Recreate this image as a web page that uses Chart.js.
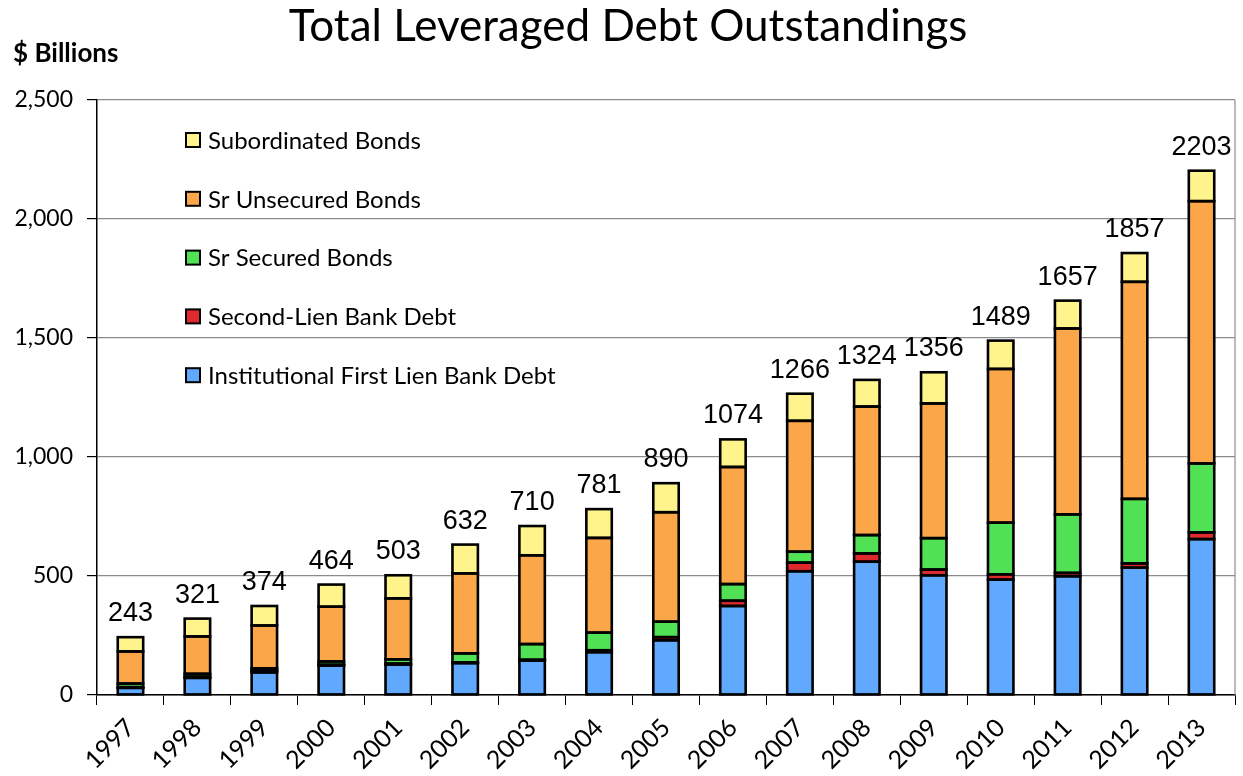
<!DOCTYPE html>
<html>
<head>
<meta charset="utf-8">
<script src="https://cdn.jsdelivr.net/npm/chart.js@4"></script>
<style>
  html, body { margin: 0; padding: 0; background: #fff; }
  #wrap { width: 1243px; height: 776px; }
</style>
</head>
<body>
<div id="wrap"><canvas id="debtChart" width="1243" height="776"></canvas></div>
<script>
// years on the x axis
const years = ["1997","1998","1999","2000","2001","2002","2003","2004","2005","2006","2007","2008","2009","2010","2011","2012","2013"];
// $ billions
const firstLien   = [30, 72, 95, 124, 128, 134, 145, 180, 230, 374, 520, 560, 503, 485, 499, 535, 655];
const secondLien  = [3, 5, 7, 3, 4, 3, 3, 8, 13, 22, 36, 35, 24, 22, 14, 18, 28];
const srSecured   = [15, 12, 10, 14, 18, 38, 66, 74, 65, 70, 46, 77, 132, 217, 246, 271, 290];
const srUnsecured = [135, 157, 180, 230, 256, 336, 373, 398, 460, 492, 550, 540, 566, 646, 781, 912, 1102];
const subordinated = [60, 75, 82, 93, 97, 121, 123, 121, 122, 116, 114, 112, 131, 119, 117, 121, 128];
// totals printed above each bar
const totals = [243, 321, 374, 464, 503, 632, 710, 781, 890, 1074, 1266, 1324, 1356, 1489, 1657, 1857, 2203];
const yTicks = [0, 500, 1000, 1500, 2000, 2500];

const calibriLike = "Lato, 'Open Sans', sans-serif";

function series(label, data, color) {
  return {
    label: label,
    data: data,
    backgroundColor: color,
    borderWidth: 0,
    inflateAmount: 0,
    barPercentage: 0.38,
    categoryPercentage: 1
  };
}

// black outlines centred on each segment's edges, like the spreadsheet original
const outlines = {
  id: "outlines",
  afterDatasetsDraw(chart) {
    const ctx = chart.ctx;
    const area = chart.chartArea;
    ctx.save();
    ctx.strokeStyle = "#8c8c8c";
    ctx.lineWidth = 1.2;
    ctx.beginPath();
    ctx.moveTo(area.right, area.top);
    ctx.lineTo(area.right, area.bottom);
    ctx.stroke();

    ctx.strokeStyle = "#000";
    ctx.lineWidth = 2.6;
    chart.data.datasets.forEach((ds, di) => {
      chart.getDatasetMeta(di).data.forEach(bar => {
        const p = bar.getProps(["x", "y", "base", "width"], true);
        ctx.strokeRect(p.x - p.width / 2, Math.min(p.y, p.base), p.width, Math.abs(p.base - p.y));
      });
    });
    ctx.restore();
  }
};

// title, unit label, totals and the legend box drawn on the canvas
const extras = {
  id: "extras",
  afterDraw(chart) {
    const ctx = chart.ctx;
    ctx.save();
    ctx.fillStyle = "#000";
    ctx.textAlign = "center";
    ctx.textBaseline = "alphabetic";
    ctx.font = "44px " + calibriLike;
    ctx.fillText("Total Leveraged Debt Outstandings", 628, 41);

    ctx.textAlign = "left";
    ctx.font = "bold 26px " + calibriLike;
    ctx.fillText("$ Billions", 13, 62);

    // totals above the top segment
    const topMeta = chart.getDatasetMeta(chart.data.datasets.length - 1);
    ctx.textAlign = "center";
    ctx.font = "27px 'Liberation Sans', Arial, sans-serif";
    topMeta.data.forEach((bar, i) => {
      ctx.fillText(String(totals[i]), bar.x, bar.y - 16);
    });

    // legend, top item first
    const sets = chart.data.datasets.slice().reverse();
    ctx.font = "24px " + calibriLike;
    ctx.textAlign = "left";
    ctx.textBaseline = "middle";
    sets.forEach((ds, i) => {
      const y = 140 + i * 58.8;
      ctx.fillStyle = ds.backgroundColor;
      ctx.fillRect(186, y - 7, 14, 14);
      ctx.strokeStyle = "#000";
      ctx.lineWidth = 2;
      ctx.strokeRect(186, y - 7, 14, 14);
      ctx.fillStyle = "#000";
      ctx.fillText(ds.label, 208, y + 1);
    });
    ctx.restore();
  }
};

new Chart(document.getElementById("debtChart"), {
  type: "bar",
  data: {
    labels: years,
    datasets: [
      series("Institutional First Lien Bank Debt", firstLien, "#61a8ff"),
      series("Second-Lien Bank Debt", secondLien, "#e0282f"),
      series("Sr Secured Bonds", srSecured, "#50e254"),
      series("Sr Unsecured Bonds", srUnsecured, "#fba648"),
      series("Subordinated Bonds", subordinated, "#fff48c")
    ]
  },
  options: {
    responsive: false,
    animation: false,
    layout: { padding: { top: 100, right: 8, left: 0, bottom: 0 } },
    plugins: {
      legend: { display: false },
      tooltip: { enabled: false }
    },
    scales: {
      x: {
        stacked: true,
        grid: {
          drawOnChartArea: false,
          drawTicks: true,
          tickLength: 10,
          color: "#000",
          offset: true
        },
        border: { color: "#000", width: 1.5 },
        ticks: {
          color: "#000",
          font: { family: calibriLike, size: 25 },
          maxRotation: 45,
          minRotation: 45,
          padding: 8,
          autoSkip: false
        },
        afterFit(scale) { scale.height = 81; }
      },
      y: {
        stacked: true,
        min: 0,
        max: 2500,
        afterBuildTicks(scale) {
          scale.ticks = yTicks.map(v => ({ value: v }));
        },
        grid: {
          color: "#8c8c8c",
          lineWidth: 1.2,
          tickColor: "#000",
          tickLength: 10
        },
        border: { color: "#000", width: 1.5 },
        ticks: {
          color: "#000",
          font: { family: calibriLike, size: 23 },
          padding: 14,
          callback: v => v.toLocaleString("en-US")
        },
        afterFit(scale) { scale.width = 97; }
      }
    }
  },
  plugins: [outlines, extras]
});
</script>
</body>
</html>
